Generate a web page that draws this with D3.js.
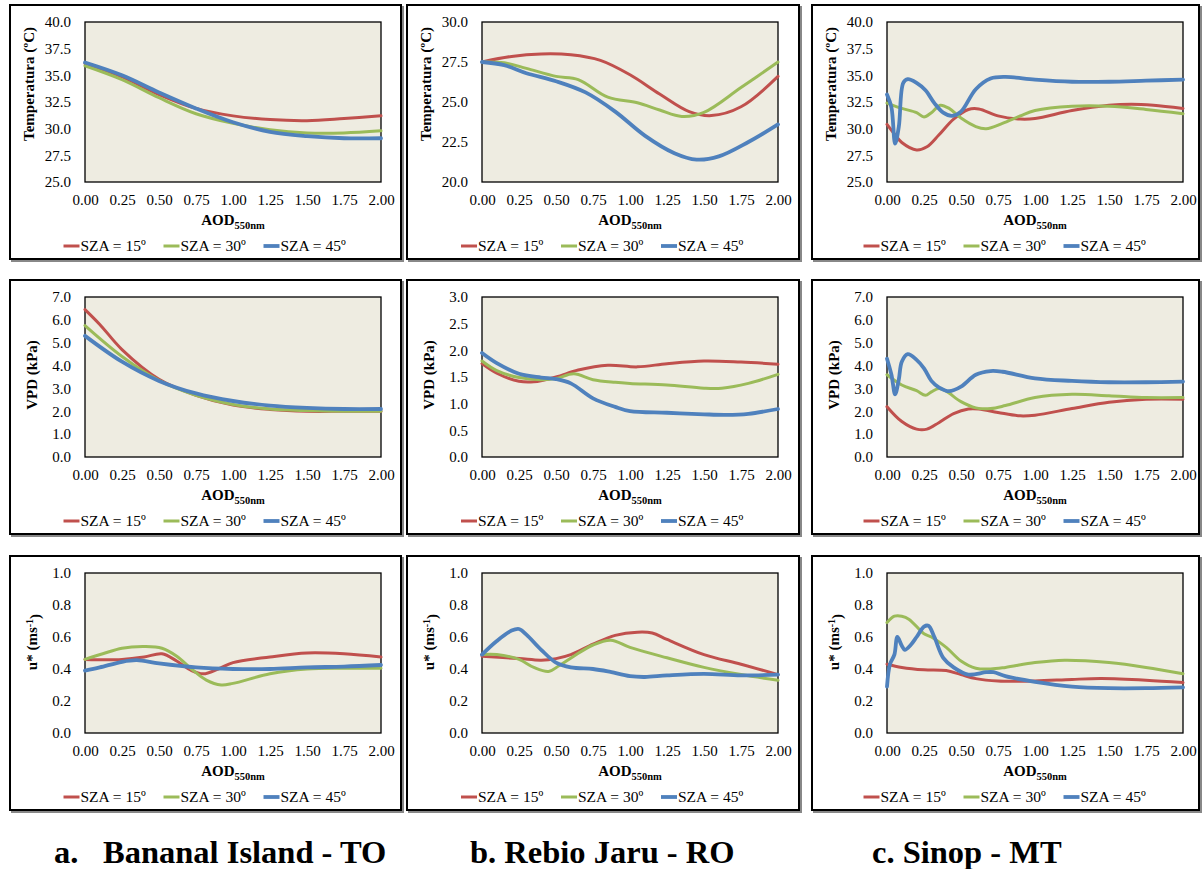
<!DOCTYPE html>
<html lang="pt">
  <head>
    <meta charset="UTF-8" />
    <title>SZA x AOD</title>
    <script src="https://d3js.org/d3.v7.min.js"></script>
    <style>
      body { margin: 0; background: #fff; }
      svg, svg text, svg g {
        font-family: "Liberation Serif", "Tinos", "Times New Roman", "DejaVu Serif", serif !important;
      }
      .ytitle, .xtitle { font-size: 15px; font-weight: bold; }
      .legend text { font-size: 15.5px; }
      .caption { font-size: 32.5px; font-weight: bold; }
    </style>
  </head>
  <body>
    <svg id="chart" width="1202" height="869"></svg>

    <script>
      // ---- data (AOD, value) ----
      const aodTicks = [0, 0.25, 0.5, 0.75, 1, 1.25, 1.5, 1.75, 2];
      const seriesNames = ["SZA = 15º", "SZA = 30º", "SZA = 45º"];
      const siteLabels = [["a.", "Bananal Island - TO"], ["b. Rebio Jaru - RO"], ["c. Sinop - MT"]];
      const yTitles = ["Temperatura (ºC)", "VPD (kPa)", "u*"];

      // Temperatura
      const bananalTemp15 = [[0,36.1],[0.25,34.85],[0.5,33.2],[0.75,31.9],[1,31.2],[1.25,30.85],[1.5,30.75],[1.75,30.95],[2,31.2]];
      const bananalTemp30 = [[0,35.9],[0.25,34.6],[0.5,32.9],[0.75,31.4],[1,30.5],[1.25,29.9],[1.5,29.6],[1.75,29.6],[2,29.8]];
      const bananalTemp45 = [[0,36.2],[0.25,35.0],[0.5,33.4],[0.75,31.9],[1,30.6],[1.25,29.7],[1.5,29.3],[1.75,29.1],[2,29.1]];
      const rebioTemp15 = [[0,27.5],[0.2,27.85],[0.4,28.0],[0.6,27.95],[0.8,27.6],[1,26.7],[1.2,25.5],[1.4,24.4],[1.55,24.15],[1.75,24.7],[2,26.6]];
      const rebioTemp30 = [[0,27.5],[0.15,27.45],[0.3,27.1],[0.5,26.6],[0.65,26.4],[0.85,25.3],[1.05,24.95],[1.2,24.5],[1.35,24.1],[1.5,24.35],[1.75,25.9],[2,27.5]];
      const rebioTemp45 = [[0,27.5],[0.15,27.3],[0.3,26.8],[0.5,26.3],[0.7,25.6],[0.9,24.4],[1.1,22.9],[1.3,21.8],[1.45,21.4],[1.6,21.6],[1.8,22.5],[2,23.6]];
      const sinopTemp15 = [[0,30.4],[0.05,29.5],[0.1,28.7],[0.2,28.0],[0.27,28.3],[0.35,29.4],[0.45,30.9],[0.55,31.8],[0.62,31.85],[0.75,31.2],[0.9,30.9],[1,30.95],[1.25,31.7],[1.5,32.2],[1.65,32.3],[1.8,32.2],[2,31.9]];
      const sinopTemp30 = [[0,32.4],[0.1,31.9],[0.2,31.5],[0.25,31.1],[0.3,31.5],[0.36,32.2],[0.42,31.9],[0.5,31.0],[0.6,30.2],[0.67,30.0],[0.78,30.5],[0.9,31.2],[1,31.7],[1.25,32.1],[1.5,32.1],[1.75,31.8],[2,31.4]];
      const sinopTemp45 = [[0,33.2],[0.03,32.0],[0.055,28.6],[0.08,30.2],[0.11,34.3],[0.14,34.65],[0.2,34.3],[0.26,33.6],[0.32,32.4],[0.38,31.5],[0.44,31.2],[0.5,31.6],[0.6,33.7],[0.7,34.7],[0.8,34.85],[1,34.6],[1.25,34.4],[1.5,34.4],[1.75,34.5],[2,34.6]];

      // VPD
      const bananalVpd15 = [[0,6.45],[0.1,5.8],[0.25,4.7],[0.5,3.4],[0.75,2.7],[1,2.27],[1.25,2.08],[1.5,2.0],[1.75,2.0],[2,2.0]];
      const bananalVpd30 = [[0,5.75],[0.25,4.4],[0.5,3.35],[0.75,2.7],[1,2.3],[1.25,2.1],[1.5,2.03],[1.75,2.0],[2,2.0]];
      const bananalVpd45 = [[0,5.3],[0.25,4.17],[0.5,3.33],[0.75,2.78],[1,2.45],[1.25,2.25],[1.5,2.15],[1.75,2.1],[2,2.1]];
      const rebioVpd15 = [[0,1.75],[0.1,1.57],[0.25,1.42],[0.35,1.41],[0.5,1.5],[0.65,1.63],[0.85,1.72],[1.05,1.69],[1.25,1.75],[1.5,1.8],[1.75,1.78],[2,1.74]];
      const rebioVpd30 = [[0,1.8],[0.1,1.62],[0.25,1.49],[0.4,1.45],[0.5,1.47],[0.62,1.56],[0.75,1.45],[0.9,1.4],[1,1.38],[1.25,1.35],[1.5,1.29],[1.62,1.29],[1.8,1.38],[2,1.55]];
      const rebioVpd45 = [[0,1.95],[0.1,1.76],[0.25,1.56],[0.4,1.49],[0.5,1.46],[0.6,1.38],[0.75,1.1],[0.9,0.94],[1,0.86],[1.25,0.83],[1.5,0.8],[1.65,0.79],[1.8,0.81],[2,0.9]];
      const sinopVpd15 = [[0,2.2],[0.1,1.55],[0.2,1.22],[0.27,1.22],[0.35,1.5],[0.45,1.9],[0.55,2.1],[0.62,2.1],[0.75,1.95],[0.9,1.8],[1,1.83],[1.25,2.12],[1.5,2.4],[1.75,2.53],[2,2.53]];
      const sinopVpd30 = [[0,3.6],[0.1,3.15],[0.2,2.9],[0.26,2.7],[0.3,2.85],[0.35,3.0],[0.4,2.88],[0.5,2.42],[0.6,2.15],[0.7,2.12],[0.8,2.25],[1,2.6],[1.25,2.74],[1.5,2.68],[1.75,2.6],[2,2.6]];
      const sinopVpd45 = [[0,4.3],[0.03,3.6],[0.055,2.74],[0.08,3.4],[0.1,4.17],[0.14,4.5],[0.2,4.25],[0.25,3.88],[0.3,3.33],[0.35,3.05],[0.42,2.88],[0.5,3.08],[0.6,3.6],[0.7,3.76],[0.78,3.73],[1,3.44],[1.25,3.33],[1.5,3.27],[1.75,3.27],[2,3.3]];

      // u*
      const bananalUst15 = [[0,0.46],[0.25,0.46],[0.4,0.475],[0.52,0.495],[0.62,0.45],[0.72,0.39],[0.8,0.37],[0.9,0.4],[1,0.44],[1.25,0.475],[1.5,0.5],[1.75,0.495],[2,0.475]];
      const bananalUst30 = [[0,0.46],[0.12,0.495],[0.25,0.53],[0.4,0.54],[0.52,0.53],[0.62,0.48],[0.72,0.4],[0.82,0.33],[0.92,0.3],[1,0.31],[1.25,0.37],[1.5,0.4],[1.75,0.405],[2,0.405]];
      const bananalUst45 = [[0,0.39],[0.1,0.41],[0.25,0.445],[0.35,0.455],[0.5,0.435],[0.75,0.41],[1,0.4],[1.25,0.4],[1.5,0.41],[1.75,0.415],[2,0.425]];
      const rebioUst15 = [[0,0.48],[0.25,0.465],[0.4,0.455],[0.5,0.465],[0.6,0.49],[0.75,0.555],[0.9,0.61],[1.05,0.63],[1.15,0.625],[1.25,0.585],[1.5,0.49],[1.75,0.43],[2,0.365]];
      const rebioUst30 = [[0,0.49],[0.1,0.49],[0.25,0.46],[0.35,0.41],[0.45,0.385],[0.52,0.42],[0.62,0.48],[0.75,0.55],[0.87,0.58],[1,0.535],[1.25,0.47],[1.5,0.41],[1.75,0.365],[2,0.33]];
      const rebioUst45 = [[0,0.49],[0.1,0.575],[0.2,0.64],[0.25,0.65],[0.3,0.615],[0.4,0.52],[0.5,0.44],[0.6,0.41],[0.75,0.4],[0.85,0.385],[1,0.355],[1.1,0.35],[1.25,0.36],[1.5,0.37],[1.75,0.36],[2,0.365]];
      const sinopUst15 = [[0,0.43],[0.1,0.41],[0.25,0.395],[0.4,0.39],[0.5,0.365],[0.6,0.34],[0.75,0.325],[1,0.325],[1.25,0.335],[1.45,0.34],[1.75,0.33],[2,0.315]];
      const sinopUst30 = [[0,0.69],[0.05,0.73],[0.1,0.73],[0.15,0.71],[0.25,0.62],[0.3,0.6],[0.4,0.535],[0.5,0.45],[0.6,0.405],[0.7,0.4],[0.8,0.41],[1,0.44],[1.2,0.455],[1.5,0.44],[1.75,0.41],[2,0.37]];
      const sinopUst45 = [[0,0.29],[0.02,0.43],[0.05,0.49],[0.07,0.6],[0.1,0.545],[0.12,0.52],[0.16,0.55],[0.2,0.6],[0.25,0.665],[0.28,0.67],[0.32,0.6],[0.38,0.47],[0.45,0.41],[0.55,0.365],[0.67,0.38],[0.72,0.38],[0.8,0.355],[1,0.32],[1.25,0.29],[1.5,0.28],[1.75,0.28],[2,0.285]];

      // y axis ranges per panel [row][col]
      const yDomains = [
        [[25, 40], [20, 30], [25, 40]],
        [[0, 7], [0, 3], [0, 7]],
        [[0, 1], [0, 1], [0, 1]]
      ];
      const yStepByPanel = [
        [2.5, 2.5, 2.5],
        [1, 0.5, 1],
        [0.2, 0.2, 0.2]
      ];
      const panelSeries = [
        [[bananalTemp15, bananalTemp30, bananalTemp45], [rebioTemp15, rebioTemp30, rebioTemp45], [sinopTemp15, sinopTemp30, sinopTemp45]],
        [[bananalVpd15, bananalVpd30, bananalVpd45], [rebioVpd15, rebioVpd30, rebioVpd45], [sinopVpd15, sinopVpd30, sinopVpd45]],
        [[bananalUst15, bananalUst30, bananalUst45], [rebioUst15, rebioUst30, rebioUst45], [sinopUst15, sinopUst30, sinopUst45]]
      ];

      // ---- layout ----
      const FONT = "'Liberation Serif', Tinos, 'Times New Roman', 'DejaVu Serif', serif";
      const colors = ["#c0504d", "#9bbb59", "#4f81bd"];
      const widths = [3, 3, 3.8];
      const boxX = [10, 407, 812];
      const boxW = [391, 392, 387];
      const boxY = [5, 280, 556];
      const boxH = 254;
      const plotW = 296, plotH = 160;
      const titleMid = [62, 78, 69];   // y-title centre, below plot top

      const svg = d3.select("#chart").attr("font-family", FONT);

      for (let r = 0; r < 3; r++) {
        for (let c = 0; c < 3; c++) {
          const g = svg.append("g").attr("transform", `translate(${boxX[c]},${boxY[r]})`);
          const left = 75, top = 17;

          // outer frame with a small shadow
          g.append("rect").attr("x", 2).attr("y", 2).attr("width", boxW[c]).attr("height", boxH)
            .attr("fill", "none").attr("stroke", "#888").attr("stroke-width", 2);
          g.append("rect").attr("width", boxW[c]).attr("height", boxH)
            .attr("fill", "#fff").attr("stroke", "#000").attr("stroke-width", 2);

          const x = d3.scaleLinear().domain([0, 2]).range([left, left + plotW]);
          const [y0, y1] = yDomains[r][c];
          const step = yStepByPanel[r][c];
          const y = d3.scaleLinear().domain([y0, y1]).range([top + plotH, top]);
          const yTicks = d3.range(y0, y1 + step / 2, step);

          g.append("rect").attr("x", left).attr("y", top).attr("width", plotW).attr("height", plotH)
            .attr("fill", "#eeece1").attr("stroke", "#000").attr("stroke-width", 1.3);

          const line = d3.line()
            .x(d => x(d[0]))
            .y(d => y(d[1]))
            .curve(d3.curveCatmullRom.alpha(0.5));

          panelSeries[r][c].forEach((s, i) => {
            g.append("path").datum(s)
              .attr("d", line)
              .attr("fill", "none")
              .attr("stroke", colors[i])
              .attr("stroke-width", widths[i])
              .attr("stroke-linejoin", "round")
              .attr("stroke-linecap", "round");
          });

          // axes (labels only)
          const ya = g.append("g").attr("transform", `translate(${left},0)`)
            .call(d3.axisLeft(y).tickValues(yTicks).tickFormat(d3.format(".1f")).tickSize(0).tickPadding(14));
          ya.select(".domain").remove();
          const xa = g.append("g").attr("transform", `translate(0,${top + plotH})`)
            .call(d3.axisBottom(x).tickValues(aodTicks).tickFormat(d3.format(".2f")).tickSize(0).tickPadding(12.5));
          xa.select(".domain").remove();
          ya.attr("font-family", FONT).attr("font-size", 15);
          xa.attr("font-family", FONT).attr("font-size", 15);

          // x title
          const xt = g.append("text").attr("class", "xtitle")
            .attr("x", left + plotW / 2).attr("y", top + plotH + 43)
            .attr("text-anchor", "middle");
          xt.append("tspan").text("AOD");
          xt.append("tspan").attr("dy", 4).attr("font-size", 10.5).text("550nm");

          // y title
          const tx = r === 0 ? 19 : 22;
          const yt = g.append("text").attr("class", "ytitle")
            .attr("transform", `translate(${tx},${top + titleMid[r]}) rotate(-90)`)
            .attr("text-anchor", "middle").attr("dy", "0.35em");
          if (r === 2) {
            yt.append("tspan").text("u* (ms");
            yt.append("tspan").attr("dy", "-0.45em").attr("font-size", 10).text("-1");
            yt.append("tspan").attr("dy", "0.45em").text(")");
          } else {
            yt.text(yTitles[r]);
          }

          // legend
          const legY = top + plotH + 64;
          const legStart = boxW[c] / 2 - 142;
          const leg = g.append("g").attr("class", "legend");
          seriesNames.forEach((name, i) => {
            const lx = legStart + i * 100;
            leg.append("line").attr("x1", lx).attr("x2", lx + 16).attr("y1", legY).attr("y2", legY)
              .attr("stroke", colors[i]).attr("stroke-width", widths[i]);
            leg.append("text").attr("x", lx + 17).attr("y", legY + 5).text(name);
          });
        }
      }

      // site captions
      const capX = [[54, 103], [470], [872]];
      siteLabels.forEach((parts, c) => {
        const t = svg.append("text").attr("class", "caption").attr("y", 863);
        parts.forEach((p, k) => t.append("tspan").attr("x", capX[c][k]).text(p));
      });
    </script>
  </body>
</html>
